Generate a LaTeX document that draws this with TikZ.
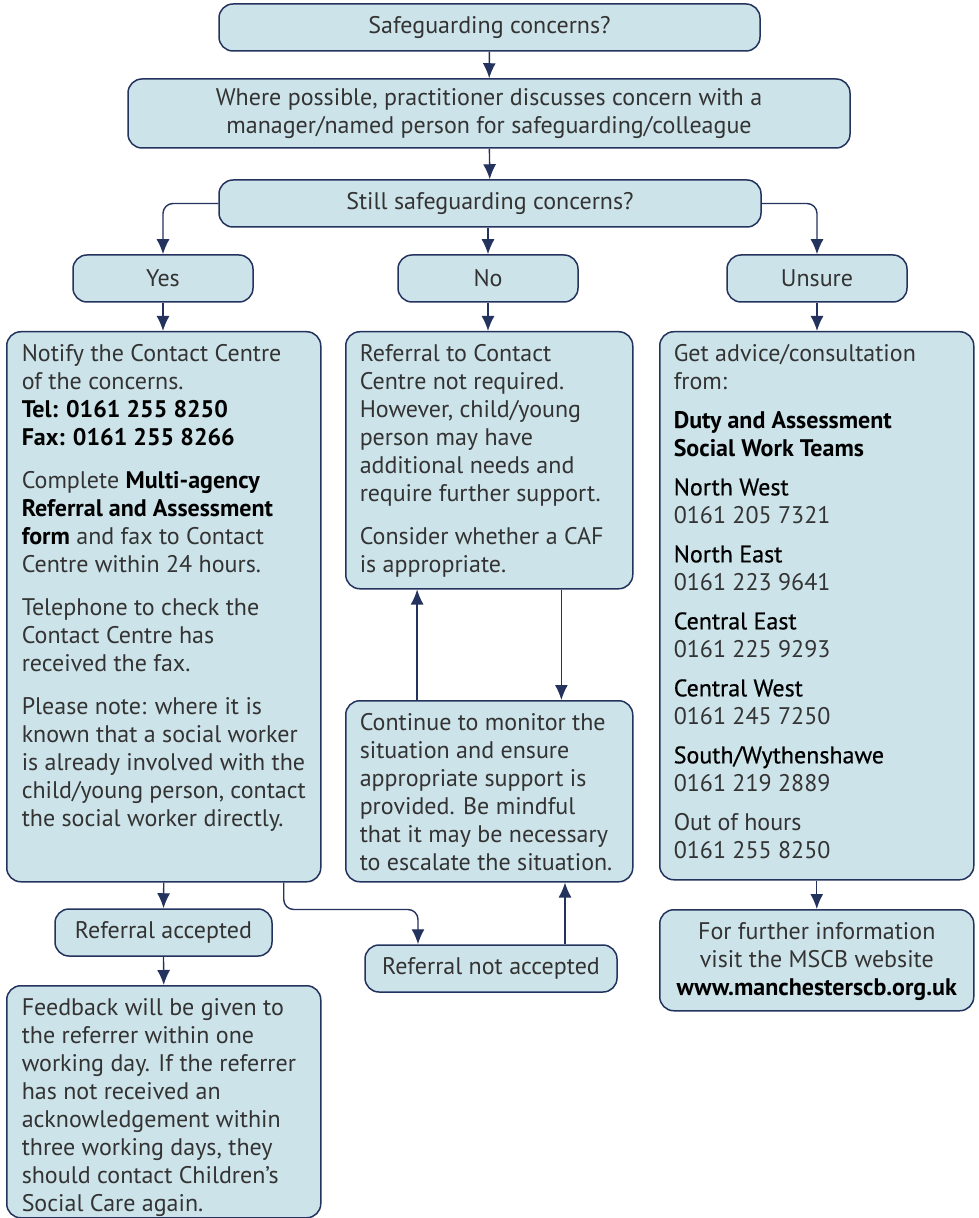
\documentclass[tikz,border=0pt]{standalone}
\usepackage{fontspec}
\setmainfont{PT Sans}
\newfontface\regionfont[FakeBold=0.5]{PT Sans}
\usetikzlibrary{arrows.meta,positioning,calc}
\definecolor{boxfill}{HTML}{CCE3E9}
\definecolor{boxline}{HTML}{24335E}
\definecolor{bodytext}{HTML}{333333}
\newcommand{\boxbody}[3]{\parbox[t][#1][t]{#2}{\strut#3}}
\newcommand{\hd}[1]{{\bfseries\color{black}#1}}
\newcommand{\area}[1]{{\regionfont\color{black}#1}}
\tikzset{%
  >={Latex[width=6.5pt,length=7.5pt]},
  % box looks
      base/.style = {rectangle, rounded corners=7pt, draw=boxline,
                     line width=0.75pt, fill=boxfill, text=bodytext,
                     font=\fontsize{12}{14}\selectfont},
       tag/.style = {base, minimum height=23.5pt, inner sep=0pt},
     panel/.style = {base, anchor=north west, inner xsep=7.5pt, inner ysep=5pt},
  % connector looks
      link/.style = {->, draw=boxline, line width=0.7pt},
}

\begin{document}
\begin{tikzpicture}[x=0.5pt, y=-0.5pt]
  \useasboundingbox (0,0) rectangle (978,1218);
  % questions and answers
  \node (concern) [tag, minimum width=270.5pt] at (489.5,27.5) {Safeguarding concerns?};
  \node (discuss) [tag, minimum width=361pt, minimum height=34.5pt, align=center] at (489,113.5)
    {Where possible, practitioner discusses concern with a\\ manager/named person for safeguarding/colleague};
  \node (still)   [tag, minimum width=271pt] at (490,203.5) {Still safeguarding concerns?};
  \node (yes)     [tag, minimum width=90pt] at (163,278.5) {Yes};
  \node (no)      [tag, minimum width=90pt] at (488,278.5) {No};
  \node (unsure)  [tag, minimum width=90pt] at (817,278.5) {Unsure};
  % big text boxes
  \node (notify) [panel] at (6,331) {\boxbody{265pt}{142pt}{%
    Notify the Contact Centre\\
    of the concerns.\\
    \hd{Tel: 0161 255 8250}\\
    \hd{Fax: 0161 255 8266}\\[7.5pt]
    Complete \hd{Multi-agency}\\
    \hd{Referral and Assessment}\\
    \hd{form} and fax to Contact\\
    Centre within 24 hours.\\[7.5pt]
    Telephone to check the\\
    Contact Centre has\\
    received the fax.\\[7.5pt]
    Please note: where it is\\
    known that a social worker\\
    is already involved with the\\
    child/young person, contact\\
    the social worker directly.}};
  \node (referral) [panel, inner xsep=7pt] at (345,331) {\boxbody{118.5pt}{129.5pt}{%
    Referral to Contact\\
    Centre not required.\\
    However, child/young\\
    person may have\\
    additional needs and\\
    require further support.\\[7.5pt]
    Consider whether a CAF\\
    is appropriate.}};
  \node (continue) [panel, inner xsep=7pt] at (345,700) {\boxbody{80.5pt}{129.5pt}{%
    Continue to monitor the\\
    situation and ensure\\
    appropriate support is\\
    provided. Be mindful\\
    that it may be necessary\\
    to escalate the situation.}};
  \node (advice) [panel, inner xsep=7pt] at (659,331) {\boxbody{264pt}{143pt}{%
    Get advice/consultation\\
    from:\\[5.5pt]
    \hd{Duty and Assessment}\\
    \hd{Social Work Teams}\\[5.5pt]
    \area{North West}\\
    0161 205 7321\\[5.5pt]
    \area{North East}\\
    0161 223 9641\\[5.5pt]
    \area{Central East}\\
    0161 225 9293\\[5.5pt]
    \area{Central West}\\
    0161 245 7250\\[5.5pt]
    \area{South/Wythenshawe}\\
    0161 219 2889\\[5.5pt]
    Out of hours\\
    0161 255 8250}};
  \node (further) [panel, inner xsep=7pt] at (659,909) {\boxbody{40.5pt}{143pt}{%
    \centering For further information\\
    visit the MSCB website\\
    \hd{www.manchesterscb.org.uk}}};
  \node (accepted)    [tag, minimum width=108.5pt] at (163.5,932.5) {Referral accepted};
  \node (notaccepted) [tag, minimum width=126pt] at (491,968.5) {Referral not accepted};
  \node (feedback) [panel] at (6,985) {\boxbody{106pt}{142pt}{%
    Feedback will be given to\\
    the referrer within one\\
    working day. If the referrer\\
    has not received an\\
    acknowledgement within\\
    three working days, they\\
    should contact Children’s\\
    Social Care again.}};
  % connectors
  \draw[link] (concern) -- (discuss);
  \draw[link] (discuss) -- (still);
  \draw[link, rounded corners=5pt] (still.west) -| (yes.north);
  \draw[link] (still.south -| no.north) -- (no.north);
  \draw[link, rounded corners=5pt] (still.east) -| (unsure.north);
  \draw[link] (yes.south) -- (notify.north -| yes.south);
  \draw[link] (no.south) -- (no.south |- referral.north);
  \draw[link] (unsure.south) -- (unsure.south |- advice.north);
  \draw[link] ($(continue.north west)!0.25!(continue.north east)$)
    -- ($(referral.south west)!0.25!(referral.south east)$);
  \draw[link] ($(referral.south west)!0.75!(referral.south east)$)
    -- ($(continue.north west)!0.75!(continue.north east)$);
  \draw[link] (notify.south) -- (accepted.north);
  \draw[link] (accepted.south) -- (feedback.north);
  \draw[link, rounded corners=5pt] ([xshift=60pt]notify.south) -- ++(0,27)
    -| ([xshift=-36.5pt]notaccepted.north);
  \draw[link] ([xshift=37pt]notaccepted.north)
    -- ([xshift=37pt]notaccepted.north |- continue.south);
  \draw[link] (advice.south) -- (further.north);
\end{tikzpicture}
\end{document}
